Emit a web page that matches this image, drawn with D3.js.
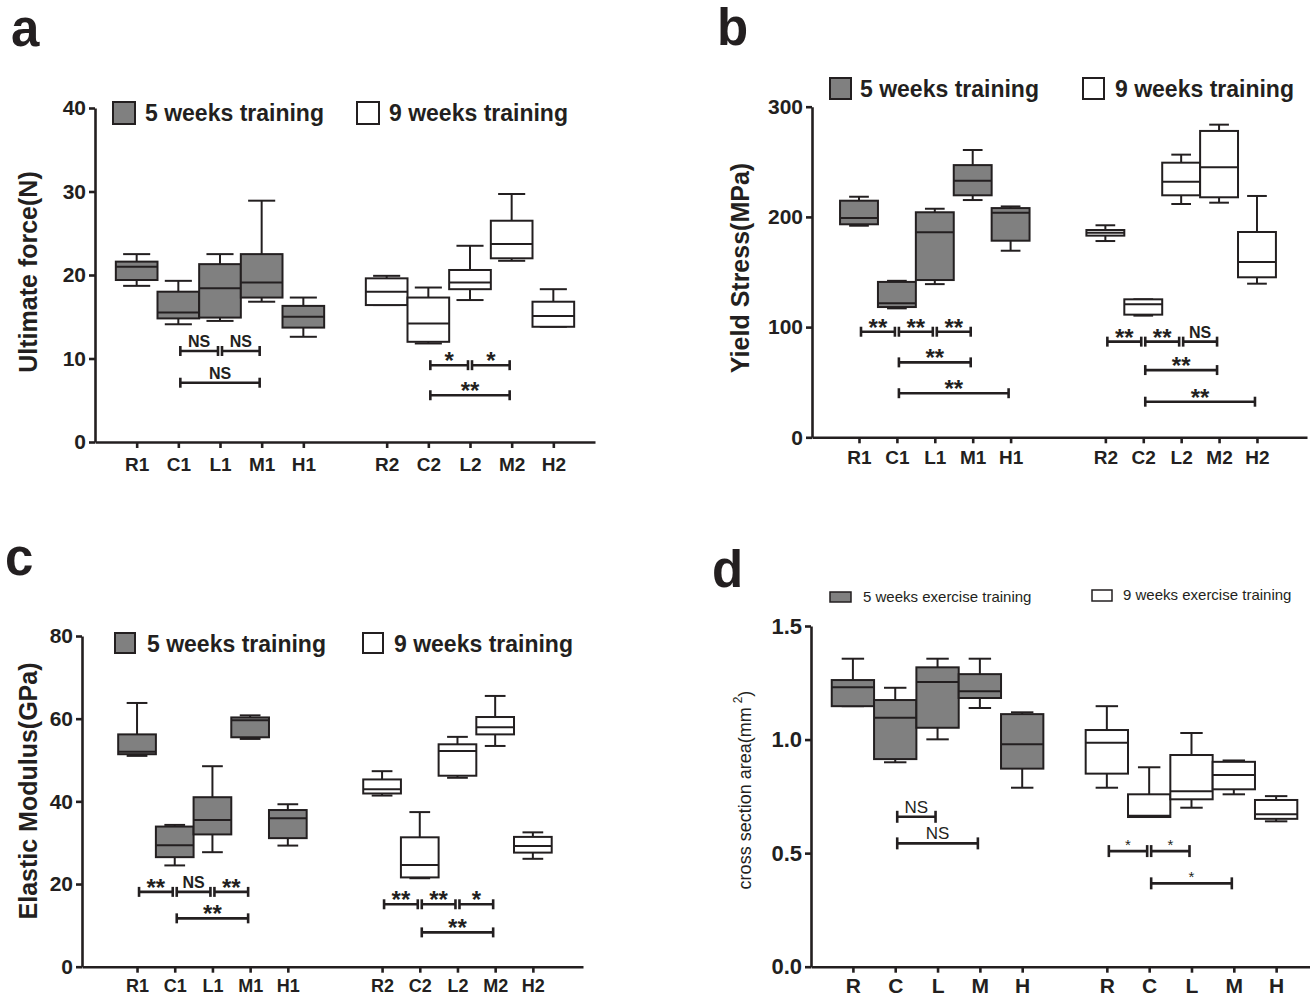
<!DOCTYPE html>
<html lang="en">
<head>
<meta charset="UTF-8">
<title>Training groups - box plots</title>
<script src="https://d3js.org/d3.v7.min.js"></script>
<style>
    body { margin: 0; background: #fff; }
    svg { display: block; font-family: "Liberation Sans", Arial, sans-serif; }
</style>
</head>
<body>
<svg width="1310" height="996"></svg>
<script>
    // categories (first five = 5 weeks, last five = 9 weeks)
    const catsNum = ["R1", "C1", "L1", "M1", "H1", "R2", "C2", "L2", "M2", "H2"];
    const catsArea = ["R", "C", "L", "M", "H", "R", "C", "L", "M", "H"];
    const seriesNames = ["5 weeks training", "9 weeks training"];
    const seriesNamesArea = ["5 weeks exercise training", "9 weeks exercise training"];

    // box values: [min, q1, median, q3, max]
    const force5 = [[18.7, 19.4, 21.0, 21.6, 22.5], [14.1, 14.8, 15.5, 18.0, 19.3], [14.5, 14.9, 18.4, 21.3, 22.5], [16.8, 17.3, 19.1, 22.5, 28.9], [12.6, 13.7, 15.0, 16.3, 17.3]];
    const force9 = [[16.4, 16.4, 18.0, 19.6, 19.9], [11.8, 12.0, 14.2, 17.3, 18.5], [17.0, 18.3, 19.1, 20.6, 23.5], [21.7, 22.0, 23.7, 26.5, 29.7], [13.8, 13.8, 15.1, 16.8, 18.3]];
    const stress5 = [[192, 193.3, 199, 214.7, 218.3], [117, 118.2, 121.6, 141, 142], [139, 142.7, 186, 204.2, 207.4], [215.3, 219.6, 232.9, 247, 260.7], [169.3, 178.4, 203.8, 208, 209.5]];
    const stress9 = [[178.1, 183, 185.7, 188.1, 192.4], [110.4, 111.3, 120.7, 125.2, 125.2], [211.7, 219.6, 232, 249.2, 256.5], [212.9, 217.8, 245, 278, 283.7], [139.4, 145.2, 159, 186.3, 219]];
    const modulus5 = [[51, 51.4, 52, 56.2, 63.8], [24.5, 26.5, 29.4, 33.9, 34.3], [27.7, 32, 35.5, 41, 48.5], [55.1, 55.5, 59.6, 60.3, 60.8], [29.3, 31.1, 35.9, 37.9, 39.3]];
    const modulus9 = [[41.4, 41.9, 42.9, 45.3, 47.3], [21.4, 21.6, 24.6, 31.3, 37.4], [45.7, 46.2, 52.2, 53.8, 55.6], [53.4, 56.2, 57.9, 60.4, 65.5], [26.1, 27.6, 29.2, 31.4, 32.5]];
    const area5 = [[1.147, 1.147, 1.230, 1.262, 1.356], [0.900, 0.914, 1.096, 1.174, 1.228], [1.001, 1.052, 1.253, 1.318, 1.356], [1.139, 1.183, 1.213, 1.288, 1.356], [0.788, 0.872, 0.979, 1.112, 1.120]];
    const area9 = [[0.788, 0.850, 0.986, 1.042, 1.147], [0.659, 0.659, 0.665, 0.759, 0.878], [0.700, 0.737, 0.773, 0.932, 1.029], [0.759, 0.781, 0.844, 0.902, 0.908], [0.640, 0.651, 0.671, 0.734, 0.751]];

    // significance brackets: [from category, to category, height, label]
    const forceSig = [[1, 2, 10.9, "NS"], [2, 3, 10.9, "NS"], [1, 3, 7.1, "NS"], [6, 7, 9.2, "*"], [7, 8, 9.2, "*"], [6, 8, 5.6, "**"]];
    const stressSig = [[0, 1, 95.8, "**"], [1, 2, 95.8, "**"], [2, 3, 95.8, "**"], [1, 3, 68, "**"], [1, 4, 40, "**"],
        [5, 6, 86.8, "**"], [6, 7, 86.8, "**"], [7, 8, 86.8, "NS"], [6, 8, 61, "**"], [6, 9, 32.3, "**"]];
    const modulusSig = [[0, 1, 18.1, "**"], [1, 2, 18.1, "NS"], [2, 3, 18.1, "**"], [1, 3, 11.7, "**"],
        [5, 6, 15.1, "**"], [6, 7, 15.1, "**"], [7, 8, 15.1, "*"], [6, 8, 8.3, "**"]];
    const areaSig = [[1, 2, 0.660, "NS"], [1, 3, 0.543, "NS"], [5, 6, 0.509, "*"], [6, 7, 0.509, "*"], [6, 8, 0.367, "*"]];

    // tick labels
    const forceTicks = [0, 10, 20, 30, 40];
    const stressTicks = [0, 100, 200, 300];
    const modulusTicks = [0, 20, 40, 60, 80];
    const areaTicks = [0, 0.5, 1.0, 1.5];

    const ink = "#231f20";
    const grey = "#808080";
    const svg = d3.select("svg");

    // layout of each panel
    const panels = [
        {
            letter: "a", letterXY: [11, 46], cats: catsNum, wk5: force5, wk9: force9, sig: forceSig,
            ticks: forceTicks, fmt: d3.format("d"), yLabel: "Ultimate force(N)", labelXY: [28, 272],
            x0: 95, x1: 595, yBottom: 442, yTop: 108, slotDomain: [-1, 11], gap: 6,
            capW: 0.65, xFont: 19, xPad: 10, bold: true, names: seriesNames,
            legend: [[113, 102, 22, 22, 145, 121], [357, 102, 22, 22, 389, 121]]
        },
        {
            letter: "b", letterXY: [717, 45], cats: catsNum, wk5: stress5, wk9: stress9, sig: stressSig,
            ticks: stressTicks, fmt: d3.format("d"), yLabel: "Yield Stress(MPa)", labelXY: [740, 268],
            x0: 812, x1: 1307, yBottom: 437.3, yTop: 106.7, slotDomain: [-1.24, 11.82], gap: 6.5,
            capW: 0.52, xFont: 19, xPad: 7, bold: true, names: seriesNames,
            legend: [[830, 78, 21, 21, 860, 97], [1083, 78, 21, 21, 1115, 97]]
        },
        {
            letter: "c", letterXY: [5, 575], cats: catsNum, wk5: modulus5, wk9: modulus9, sig: modulusSig,
            ticks: modulusTicks, fmt: d3.format("d"), yLabel: "Elastic Modulus(GPa)", labelXY: [28, 791],
            x0: 82, x1: 583, yBottom: 966.7, yTop: 636, slotDomain: [-1.46, 11.83], gap: 6.5,
            capW: 0.55, xFont: 18, xPad: 7, bold: true, names: seriesNames,
            legend: [[115, 633, 20, 20, 147, 652], [363, 633, 20, 20, 394, 652]]
        },
        {
            letter: "d", letterXY: [712, 587], cats: catsArea, wk5: area5, wk9: area9, sig: areaSig,
            ticks: areaTicks, fmt: d3.format(".1f"), yLabel: "cross section area(mm", labelXY: [745, 790],
            x0: 811, x1: 1310, yBottom: 966.7, yTop: 626, slotDomain: [-0.99, 10.8], gap: 6,
            capW: 0.53, xFont: 21, xPad: 5, bold: false, names: seriesNamesArea,
            legend: [[830, 592, 21, 10, 863, 602], [1092, 590, 20, 11, 1123, 600]]
        }
    ];

    panels.forEach(drawPanel);

    function drawPanel(p) {
        const g = svg.append("g");
        const slot = i => i < 5 ? i : p.gap + (i - 5);
        const x = d3.scaleLinear().domain(p.slotDomain).range([p.x0, p.x1]);
        const y = d3.scaleLinear().domain([0, d3.max(p.ticks)]).range([p.yBottom, p.yTop]);
        const step = x(1) - x(0);

        // panel letter
        g.append("text")
            .attr("x", p.letterXY[0]).attr("y", p.letterXY[1])
            .attr("font-size", 51).attr("font-weight", "bold").attr("fill", ink)
            .text(p.letter);

        // axes
        const yAxis = g.append("g")
            .attr("transform", `translate(${p.x0},0)`)
            .call(d3.axisLeft(y).tickValues(p.ticks).tickFormat(p.fmt).tickSize(6).tickSizeOuter(0).tickPadding(3));
        yAxis.selectAll("text").attr("font-size", p.bold ? 21 : 22).attr("font-weight", "bold");

        const xAxis = g.append("g")
            .attr("transform", `translate(0,${p.yBottom})`)
            .call(d3.axisBottom(x).tickValues(d3.range(10).map(slot))
                .tickFormat((d, i) => p.cats[i]).tickSize(6).tickSizeOuter(0).tickPadding(p.xPad));
        xAxis.selectAll("text").attr("font-size", p.xFont).attr("font-weight", "bold");

        g.selectAll(".domain, .tick line").attr("stroke", ink).attr("stroke-width", 2.6);
        g.selectAll(".tick text").attr("fill", ink).attr("font-family", null);

        // y label
        const yl = g.append("text")
            .attr("transform", `translate(${p.labelXY[0]},${p.labelXY[1]}) rotate(-90)`)
            .attr("text-anchor", "middle").attr("dominant-baseline", "central")
            .attr("fill", ink)
            .attr("font-size", p.bold ? 25 : 18)
            .attr("font-weight", p.bold ? "bold" : "normal")
            .text(p.yLabel);
        if (!p.bold) {
            yl.append("tspan").attr("dx", 4).attr("dy", -7).attr("font-size", 12).text("2");
            yl.append("tspan").attr("dy", 7).text(")");
        }

        // legend
        p.legend.forEach((l, k) => {
            g.append("rect")
                .attr("x", l[0]).attr("y", l[1]).attr("width", l[2]).attr("height", l[3])
                .attr("fill", k === 0 ? grey : "#fff").attr("stroke", ink).attr("stroke-width", p.bold ? 2 : 1.5);
            g.append("text")
                .attr("x", l[4]).attr("y", l[5])
                .attr("fill", ink)
                .attr("font-size", p.bold ? 23 : 15)
                .attr("font-weight", p.bold ? "bold" : "normal")
                .text(p.names[k]);
        });

        // boxes
        const boxes = p.wk5.map((v, i) => ({ v, i, fill: grey }))
            .concat(p.wk9.map((v, i) => ({ v, i: i + 5, fill: "#fff" })));
        const bw = step, cw = step * p.capW;
        const bg = g.selectAll(".box").data(boxes).join("g")
            .attr("class", "box")
            .attr("stroke", ink).attr("stroke-width", 2);

        bg.append("line")
            .attr("x1", d => x(slot(d.i))).attr("x2", d => x(slot(d.i)))
            .attr("y1", d => y(d.v[0])).attr("y2", d => y(d.v[4]));
        bg.append("line")
            .attr("x1", d => x(slot(d.i)) - cw / 2).attr("x2", d => x(slot(d.i)) + cw / 2)
            .attr("y1", d => y(d.v[0])).attr("y2", d => y(d.v[0]));
        bg.append("line")
            .attr("x1", d => x(slot(d.i)) - cw / 2).attr("x2", d => x(slot(d.i)) + cw / 2)
            .attr("y1", d => y(d.v[4])).attr("y2", d => y(d.v[4]));
        bg.append("rect")
            .attr("x", d => x(slot(d.i)) - bw / 2).attr("width", bw)
            .attr("y", d => y(d.v[3])).attr("height", d => y(d.v[1]) - y(d.v[3]))
            .attr("fill", d => d.fill);
        bg.append("line")
            .attr("x1", d => x(slot(d.i)) - bw / 2).attr("x2", d => x(slot(d.i)) + bw / 2)
            .attr("y1", d => y(d.v[2])).attr("y2", d => y(d.v[2]));

        // significance brackets
        const capH = p.bold ? 5 : 6;
        const isStar = s => /^\*+$/.test(s);
        const sg = g.selectAll(".sig").data(p.sig).join("g")
            .attr("class", "sig")
            .attr("stroke", ink).attr("stroke-width", 2.6);
        sg.append("line")
            .attr("x1", d => x(slot(d[0])) + 2).attr("x2", d => x(slot(d[1])) - 2)
            .attr("y1", d => y(d[2])).attr("y2", d => y(d[2]));
        sg.append("line")
            .attr("x1", d => x(slot(d[0])) + 2).attr("x2", d => x(slot(d[0])) + 2)
            .attr("y1", d => y(d[2]) - capH).attr("y2", d => y(d[2]) + capH);
        sg.append("line")
            .attr("x1", d => x(slot(d[1])) - 2).attr("x2", d => x(slot(d[1])) - 2)
            .attr("y1", d => y(d[2]) - capH).attr("y2", d => y(d[2]) + capH);
        sg.append("text")
            .attr("stroke", "none").attr("fill", ink)
            .attr("text-anchor", "middle")
            .attr("x", d => (x(slot(d[0])) + x(slot(d[1]))) / 2)
            .attr("y", d => {
                if (p.bold) return y(d[2]) + (isStar(d[3]) ? 4 : -4);
                return y(d[2]) + (isStar(d[3]) ? -1 : -4);
            })
            .attr("font-size", d => isStar(d[3]) ? (p.bold ? 24 : 15) : (p.bold ? 16 : 17))
            .attr("font-weight", p.bold ? "bold" : "normal")
            .text(d => d[3]);
    }
</script>
</body>
</html>
